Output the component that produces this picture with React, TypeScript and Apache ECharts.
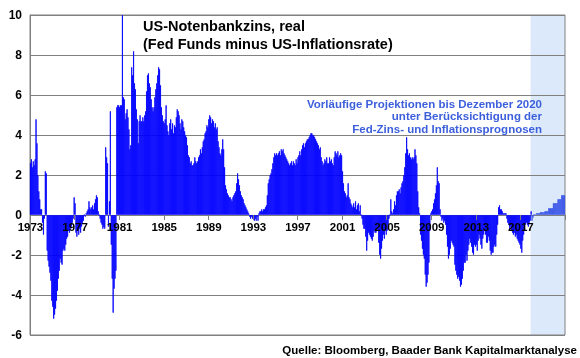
import React, { useEffect, useRef } from "react";
import * as echarts from "echarts";

const firstYear = 1973;
const lastYear = 2020;

// Real Fed Funds rate (Fed Funds minus US inflation), monthly, %
const rate1970s = [
  2.6, 2.8, 2.4, 2.7, 2.5, 2.8, 4.8, 3.6, 2.0, 1.2, 0.8, 0.3, // 1973
  0.3, -0.4, -1.0, -0.2, 2.2, 2.1, -1.8, -2.3, -2.6, -2.9, -3.3, -4.3, // 1974
  -4.6, -5.2, -5.0, -4.7, -4.3, -3.8, -3.2, -2.8, -2.2, -2.4, -2.5, -1.8, // 1975
  -1.7, -1.8, -1.5, -1.2, -1.1, -0.8, -0.9, -0.7, -0.6, -0.4, -0.2, 0.9, // 1976
  0.6, -0.9, -1.1, -0.8, -1.0, -0.7, -0.9, -0.6, -0.4, -0.3, 0.0, -0.1, // 1977
  0.1, 0.2, 0.3, 0.7, 0.4, 0.3, 0.4, 0.5, 0.3, 0.6, 0.8, 1.0, // 1978
  0.9, 0.2, 0.0, -0.2, -0.4, -0.5, -0.7, -0.6, -0.7, 3.4, 2.9, 2.6, // 1979
];
const rate1980s = [
  -0.6, 0.7, 5.2, -1.5, -3.2, -4.9, -3.7, -3.2, -2.8, 5.4, 5.5, 5.5, // 1980
  5.4, 5.5, 5.5, 10.0, 5.9, 5.8, 4.8, 5.1, 5.3, 4.9, 4.3, 3.3, // 1981
  3.5, 7.4, 7.0, 8.2, 6.6, 6.3, 5.3, 4.8, 3.6, 4.7, 5.0, 4.7, // 1982
  4.7, 4.9, 4.7, 5.0, 5.2, 6.2, 7.0, 7.1, 6.6, 6.4, 5.8, 5.4, // 1983
  5.2, 5.4, 5.9, 6.3, 6.6, 7.0, 7.4, 7.3, 6.5, 5.4, 5.0, 4.7, // 1984
  4.6, 4.8, 5.5, 4.5, 4.2, 4.0, 4.6, 4.8, 4.3, 4.6, 4.1, 4.5, // 1985
  4.4, 4.9, 5.3, 5.2, 5.0, 4.6, 4.3, 4.8, 4.7, 4.4, 4.2, 4.0, // 1986
  3.9, 3.5, 3.0, 2.9, 2.6, 2.7, 2.5, 2.5, 2.6, 2.9, 2.7, 2.6, // 1987
  2.7, 2.9, 3.0, 3.3, 3.1, 3.4, 3.7, 3.8, 4.1, 4.2, 4.5, 4.4, // 1988
  4.8, 5.0, 4.9, 4.6, 4.8, 4.7, 4.4, 4.6, 4.3, 4.4, 3.7, 3.4, // 1989
];
const rate1990s = [
  3.1, 3.0, 3.3, 3.8, 3.3, 2.4, 1.5, 1.3, 1.1, 1.0, 0.9, 0.9, // 1990
  0.8, 0.7, 0.9, 1.0, 1.1, 1.2, 1.6, 2.1, 1.8, 1.5, 1.2, 1.0, // 1991
  0.9, 0.8, 0.6, 0.5, 0.4, 0.3, 0.2, 0.1, -0.1, -0.2, -0.1, -0.2, // 1992
  -0.2, -0.3, -0.2, -0.3, -0.1, -0.3, 0.1, 0.2, 0.2, 0.3, 0.2, 0.3, // 1993
  0.3, 0.4, 0.5, 1.0, 1.6, 1.8, 2.0, 2.1, 2.3, 2.6, 2.9, 3.1, // 1994
  3.0, 3.1, 3.0, 3.1, 3.2, 3.0, 3.3, 3.2, 3.3, 3.1, 3.0, 2.9, // 1995
  2.8, 2.7, 2.6, 2.5, 2.6, 2.7, 2.5, 2.7, 2.6, 2.5, 2.8, 2.6, // 1996
  2.9, 3.0, 3.2, 3.0, 3.3, 3.5, 3.6, 3.4, 3.6, 3.7, 3.8, 3.8, // 1997
  3.9, 4.0, 4.1, 4.1, 4.0, 4.0, 3.9, 3.8, 3.7, 3.6, 3.5, 3.3, // 1998
  3.4, 2.9, 2.7, 2.5, 2.6, 2.8, 2.7, 2.9, 2.6, 2.6, 2.9, 2.7, // 1999
];
const rate2000s = [
  2.8, 2.6, 2.5, 2.9, 3.2, 3.1, 3.0, 3.2, 2.9, 3.0, 3.1, 3.0, // 2000
  2.2, 1.6, 1.2, 1.1, 0.9, 1.0, 1.6, 0.9, 0.8, 0.6, 0.5, 0.4, // 2001
  0.6, 0.4, 0.7, 0.3, 0.5, 0.6, 0.2, 0.5, 0.0, -0.2, -0.5, -0.7, // 2002
  -0.7, -1.1, -1.8, -1.3, -0.9, -1.0, -1.1, -1.2, -1.3, -1.1, -0.8, -0.9, // 2003
  -0.9, -0.7, -0.8, -1.4, -2.0, -2.2, -1.7, -1.3, -1.0, -1.2, -0.8, -1.0, // 2004
  -0.8, -0.5, -0.2, 0.0, 0.8, 0.2, 0.1, 0.3, 0.7, 0.5, 1.0, 1.2, // 2005
  1.2, 1.3, 1.1, 1.4, 1.6, 1.7, 2.0, 2.4, 3.1, 3.9, 3.3, 3.0, // 2006
  3.1, 2.9, 2.8, 2.9, 2.8, 2.9, 3.3, 3.0, 2.6, 1.2, 0.4, 0.1, // 2007
  -1.0, -1.3, -1.7, -2.0, -2.2, -3.0, -3.6, -3.4, -3.0, -2.4, -0.8, 0.1, // 2008
  0.2, 0.3, 0.6, 0.8, 1.1, 1.5, 2.4, 1.7, 1.6, 0.3, -0.1, -0.3, // 2009
];
const rate2010s = [
  -0.2, -0.4, -0.3, -0.5, -1.0, -1.6, -2.2, -2.0, -1.7, -1.3, -1.4, -1.5, // 2010
  -1.6, -2.5, -2.8, -3.0, -3.2, -3.1, -3.3, -3.6, -3.5, -3.2, -2.8, -2.4, // 2011
  -2.4, -2.0, -2.3, -1.8, -1.5, -1.2, -1.4, -1.6, -1.9, -2.0, -1.5, -1.6, // 2012
  -1.5, -1.8, -1.3, -1.0, -1.2, -1.5, -1.7, -1.2, -1.0, -0.8, -1.0, -1.4, // 2013
  -1.4, -1.1, -1.3, -1.8, -2.0, -1.9, -1.9, -1.6, -1.5, -1.6, -1.0, -0.5, // 2014
  0.4, 0.5, 0.3, 0.3, 0.2, 0.1, 0.1, 0.1, 0.1, -0.2, -0.4, -0.5, // 2015
  -0.7, -0.6, -0.8, -0.9, -1.0, -0.9, -1.1, -1.0, -1.2, -1.3, -1.4, -1.5, // 2016
  -1.7, -1.9, -1.3, -1.0, -0.8, -0.5, -0.4, -0.5, -0.6, -0.4, -0.3, 0.2, // 2017
];
// Preliminary projection Jan 2018 – Dec 2020
const projection = [
  -0.3, -0.15, 0.0, 0.05, 0.05, 0.1, 0.1, 0.1, 0.1, 0.15, 0.15, 0.15, // 2018
  0.15, 0.15, 0.2, 0.2, 0.2, 0.2, 0.35, 0.35, 0.35, 0.35, 0.35, 0.6, // 2019
  0.6, 0.6, 0.6, 0.6, 0.8, 0.8, 0.8, 0.8, 1.0, 1.0, 1.0, 1.0, // 2020
];

const xTickYears = ["1973", "1977", "1981", "1985", "1989", "1993", "1997", "2001", "2005", "2009", "2013", "2017"];
const shadeFrom = "2017-12";
const shadeTo = "2020-12";

const titleText = "US-Notenbankzins, real\n(Fed Funds minus US-Inflationsrate)";
const noteText = "Vorläufige Projektionen bis Dezember 2020\nunter Berücksichtigung der\nFed-Zins- und Inflationsprognosen";
const sourceText = "Quelle: Bloomberg, Baader Bank Kapitalmarktanalyse";

const FONT = '"Liberation Sans", Arial, sans-serif';

export default function App() {
  const ref = useRef<HTMLDivElement>(null);
  useEffect(() => {
    const chart = echarts.init(ref.current!, null, { renderer: "svg" });
    const months: string[] = [];
    for (let y = firstYear; y <= lastYear; y++) {
      for (let m = 1; m <= 12; m++) months.push(`${y}-${String(m).padStart(2, "0")}`);
    }
    const history = [...rate1970s, ...rate1980s, ...rate1990s, ...rate2000s, ...rate2010s];
    const nHist = history.length;
    const histData = months.map((_, i) => (i < nHist ? history[i] : "-"));
    const projData = months.map((_, i) => (i >= nHist ? projection[i - nHist] : "-"));
    const isTick = (_i: number, v: string) => v.endsWith("-01") && xTickYears.includes(v.slice(0, 4));

    const gridTop = 15;
    const gridBottom = 23;
    const gridHeight = 358 - gridTop - gridBottom;
    const yMin = -6;
    const yMax = 10;
    const zeroOffset = -gridHeight * (0 - yMin) / (yMax - yMin);

    const texts = [
      {
        type: "text",
        x: 143,
        y: 17,
        z: 20,
        style: { text: titleText, font: `bold 14.5px ${FONT}`, fill: "#000", lineHeight: 18, textVerticalAlign: "top" },
      },
      {
        type: "text",
        x: 542,
        y: 98,
        z: 20,
        style: {
          text: noteText,
          font: `bold 11.5px ${FONT}`,
          fill: "#3c5fdc",
          lineHeight: 12.3,
          textAlign: "right",
          textVerticalAlign: "top",
        },
      },
      {
        type: "text",
        x: 577,
        y: 350,
        z: 20,
        style: { text: sourceText, font: `bold 11.5px ${FONT}`, fill: "#000", textAlign: "right", textVerticalAlign: "middle" },
      },
    ];

    chart.setOption({
      animation: false,
      grid: { left: 30, right: 15, top: gridTop, bottom: gridBottom, show: true, borderColor: "#808080", borderWidth: 1 },
      xAxis: {
        type: "category",
        data: months,
        boundaryGap: true,
        position: "bottom",
        offset: zeroOffset,
        z: 10,
        axisLine: { show: false, onZero: false },
        axisTick: { show: true, interval: isTick, length: 5, lineStyle: { color: "#808080" } },
        axisLabel: {
          interval: isTick,
          formatter: (v: string) => v.slice(0, 4),
          fontFamily: FONT,
          fontWeight: "bold",
          fontSize: 11.5,
          color: "#000",
          margin: 6,
          hideOverlap: false,
        },
        splitLine: { show: false },
      },
      yAxis: {
        type: "value",
        min: yMin,
        max: yMax,
        interval: 2,
        axisLine: { show: true, lineStyle: { color: "#808080" } },
        axisTick: { show: false },
        splitLine: { show: true, lineStyle: { color: "#808080", width: 1 } },
        axisLabel: { fontFamily: FONT, fontWeight: "bold", fontSize: 12, color: "#000", margin: 8 },
      },
      series: [
        {
          type: "bar",
          name: "real",
          data: histData,
          barCategoryGap: "0%",
          barGap: "-100%",
          itemStyle: { color: "#0000ff", borderColor: "#0000ff", borderWidth: 0.8 },
        },
        {
          type: "bar",
          name: "projection",
          data: projData,
          barCategoryGap: "0%",
          barGap: "-100%",
          itemStyle: { color: "#3d58e8", borderColor: "#3d58e8", borderWidth: 0.8 },
        },
      ],
      graphic: texts,
    });

    // Shaded projection period, placed through the chart's own scales
    const iFrom = months.indexOf(shadeFrom);
    const iTo = months.indexOf(shadeTo);
    const c0 = chart.convertToPixel({ xAxisIndex: 0 }, 0) as number;
    const c1 = chart.convertToPixel({ xAxisIndex: 0 }, 1) as number;
    const band = c1 - c0;
    const xFrom = (chart.convertToPixel({ xAxisIndex: 0 }, iFrom) as number) - band / 2;
    const xTo = (chart.convertToPixel({ xAxisIndex: 0 }, iTo) as number) + band / 2;
    const yTop = chart.convertToPixel({ yAxisIndex: 0 }, yMax) as number;
    const yBot = chart.convertToPixel({ yAxisIndex: 0 }, yMin) as number;

    chart.setOption({
      graphic: [
        ...texts,
        {
          type: "rect",
          z: -1,
          silent: true,
          shape: { x: xFrom, y: yTop, width: xTo - xFrom, height: yBot - yTop },
          style: { fill: "rgba(165, 200, 245, 0.4)" },
        },
      ],
    });
    return () => chart.dispose();
  }, []);
  return <div ref={ref} style={{ position: "fixed", left: 0, top: 0, width: 580, height: 358 }} />;
}
